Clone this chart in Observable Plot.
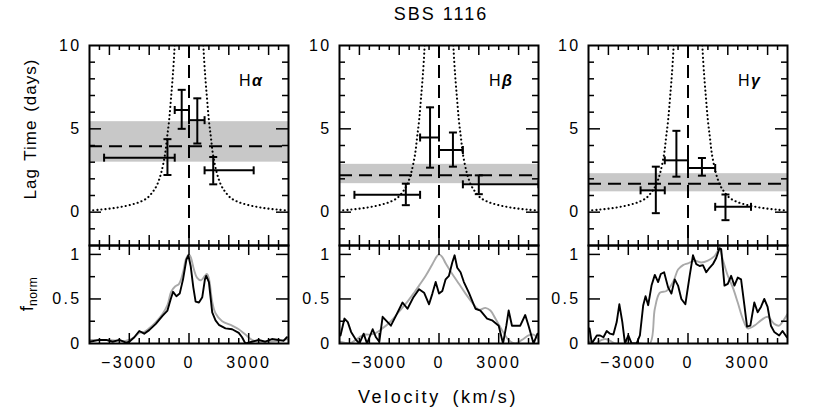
<!DOCTYPE html>
<html><head><meta charset="utf-8">
<script src="https://cdn.jsdelivr.net/npm/d3@7"></script>
<script src="https://cdn.jsdelivr.net/npm/@observablehq/plot@0.6"></script>
<style>
body{margin:0;background:#fff;}
#fig{position:relative;width:830px;height:417px;overflow:hidden;font-family:"Liberation Sans",Arial,Helvetica,sans-serif;color:#000;background:#fff;}
#fig svg{position:absolute;}
.lbl{position:absolute;white-space:pre;line-height:1;}
</style></head><body><div id="fig"></div>
<script>
// ---------- data ----------
const title = "SBS 1116";
const lineNames = ["α", "β", "γ"];
const topYTicks = [0, 5, 10];
const botYTicks = [0, 0.5, 1];
const xTickLabels = [-3000, 0, 3000];

// Hα lags
const haVel = [-1083, -367, 417, 1217];
const haBinLo = [-4267, -717, 0, 783];
const haBinHi = [-717, 0, 783, 3250];
const haLag = [3.27, 6.13, 5.52, 2.51];
const haLagLo = [2.23, 5.0, 4.12, 1.67];
const haLagHi = [4.38, 7.34, 6.83, 3.31];
const haMean = 3.96;
const haBand = [3.0, 5.43];

// Hβ lags
const hbVel = [-1667, -450, 700, 2000];
const hbBinLo = [-4250, -950, 0, 1200];
const hbBinHi = [-950, 0, 1200, 5000];
const hbLag = [1.04, 4.48, 3.73, 1.67];
const hbLagLo = [0.42, 2.67, 2.73, 1.08];
const hbLagHi = [1.71, 6.29, 4.78, 2.21];
const hbMean = 2.21;
const hbBand = [1.71, 2.87];

// Hγ lags
const hgVel = [-1617, -583, 700, 1883];
const hgBinLo = [-2383, -1167, 0, 1367];
const hgBinHi = [-1167, 0, 1367, 3167];
const hgLag = [1.31, 3.11, 2.65, 0.32];
const hgLagLo = [-0.06, 2.13, 2.19, -0.48];
const hgLagHi = [2.73, 4.88, 3.25, 1.06];
const hgMean = 1.71;
const hgBand = [1.22, 2.31];

// virial envelope (dotted), |velocity| and lag
const envAbsV = [720, 800, 900, 1000, 1100, 1200, 1400, 1600, 1800, 2100, 2500, 3000, 3500, 4000, 4500, 5000];
const envLag = [10, 8.4, 6.9, 5.5, 4.5, 3.5, 2.35, 1.65, 1.25, 0.85, 0.6, 0.42, 0.3, 0.21, 0.15, 0.1];

// Hα rms (black) and mean (gray) profiles
const haV = [-5000,-4500,-4167,-3833,-3500,-3167,-3000,-2750,-2500,-2250,-2000,-1667,-1333,-1083,-917,-800,-633,-467,-300,-133,-33,83,217,333,500,667,800,867,1000,1167,1333,1500,1833,2167,2500,2667,2833,3167,3500,3833,4167,4500,4750,4917];
const haF = [0.02,0.04,0.04,0.02,0.04,0.01,0.02,0.07,0.14,0.11,0.15,0.22,0.31,0.37,0.5,0.58,0.53,0.56,0.72,0.94,0.99,0.87,0.63,0.47,0.46,0.52,0.72,0.76,0.69,0.35,0.26,0.21,0.17,0.16,0.12,0.07,0,0.02,0.04,0.02,0.05,0.04,0.03,0.07];
const haMV = [-5000,-4500,-4000,-3500,-3200,-2800,-2500,-2250,-2000,-1667,-1333,-1083,-900,-700,-500,-300,-150,0,100,250,400,600,800,900,1000,1167,1333,1667,2167,2500,2833,3167,3500,4000,4500,5000];
const haMF = [0.04,0.04,0.04,0.03,0.03,0.06,0.12,0.13,0.17,0.24,0.33,0.43,0.58,0.64,0.67,0.8,0.95,1.0,0.96,0.83,0.74,0.71,0.76,0.78,0.73,0.47,0.34,0.25,0.2,0.16,0.1,0.04,0.02,0.02,0.03,0.05];

// Hβ
const hbV = [-4950,-4750,-4583,-4417,-4167,-4000,-3783,-3617,-3333,-3167,-3000,-2833,-2583,-2417,-2167,-1833,-1583,-1283,-1000,-750,-500,-333,-167,0,167,333,500,667,783,917,1083,1250,1500,1833,2083,2417,2667,2833,3000,3217,3383,3500,3667,4083,4333,4500,4750,4950];
const hbF = [0.09,0.28,0.24,0.13,0.04,0,0.11,0,0.16,0.07,0.02,0.3,0.24,0.2,0.31,0.46,0.39,0.52,0.61,0.57,0.44,0.56,0.69,0.56,0.59,0.72,0.76,0.91,0.99,0.85,0.8,0.69,0.57,0.39,0.37,0.28,0.26,0.23,0.2,0,0.2,0.37,0.2,0.2,0.32,0.2,0,0.11];
const hbMV = [-5000,-4750,-4500,-4250,-4000,-3750,-3500,-3167,-2833,-2417,-2000,-1583,-1250,-1000,-667,-333,-100,0,167,333,667,1000,1333,1667,2000,2333,2583,2833,3167,3500,3833,4167,4500,4750,5000];
const hbMF = [0.02,0.01,0.0,0.03,0.07,0.1,0.1,0.12,0.17,0.25,0.36,0.47,0.57,0.65,0.76,0.89,0.98,1.0,0.97,0.9,0.78,0.67,0.56,0.46,0.38,0.4,0.37,0.28,0.15,0.04,0,0.04,0.09,0.1,0.05];

// Hγ
const hgV = [-4950,-4833,-4583,-4417,-4250,-4083,-3917,-3750,-3583,-3450,-3300,-3167,-3000,-2833,-2583,-2417,-2250,-2133,-2000,-1833,-1667,-1500,-1367,-1200,-1000,-833,-667,-500,-333,-133,83,250,417,583,750,917,1083,1250,1417,1583,1667,1833,2000,2167,2333,2500,2667,2833,2967,3133,3333,3500,3667,3833,4000,4167,4333,4583,4750,4967];
const hgF = [0.17,0,0.09,0.09,0.07,0.14,0.11,0.1,0.24,0.44,0.24,0,0.09,0,0,0.09,0.43,0.53,0.43,0.65,0.77,0.69,0.78,0.8,0.63,0.56,0.72,0.65,0.5,0.44,0.76,0.99,0.89,0.87,0.88,0.8,0.85,0.89,0.96,1.07,1.06,0.65,0.67,0.76,0.65,0.74,0.72,0.43,0.19,0.2,0.46,0.35,0.41,0.5,0.41,0.2,0.13,0.09,0.14,0.07];
const hgMV = [-5000,-4833,-4667,-4500,-4333,-4167,-4000,-3833,-3667,-3000,-2400,-1917,-1667,-1417,-1083,-750,-500,-250,0,333,667,1000,1333,1583,1750,2000,2250,2500,2750,3000,3333,3667,4000,4333,4583,4800,5000];
const hgMF = [0.02,0.01,0,0.02,0.04,0.05,0.04,0.02,0,0,0,0,0.39,0.57,0.59,0.69,0.83,0.88,0.9,0.93,0.91,0.93,0.98,1.06,0.94,0.76,0.63,0.46,0.28,0.17,0.2,0.26,0.3,0.22,0.2,0.26,0.33];

// ---------- layout / style ----------
const FONT = '"Liberation Sans", Arial, Helvetica, sans-serif';
const W = 199, TOP_H = 200, BOT_H = 98;
const panelLefts = [89, 339, 588];
const topFrameY = 45, botFrameY = 245;
const xDomain = [-5000, 5000];
const ML = 50, MR = 10;

const tops = [
  {vel: haVel, lo: haBinLo, hi: haBinHi, lag: haLag, lagLo: haLagLo, lagHi: haLagHi, mean: haMean, band: haBand},
  {vel: hbVel, lo: hbBinLo, hi: hbBinHi, lag: hbLag, lagLo: hbLagLo, lagHi: hbLagHi, mean: hbMean, band: hbBand},
  {vel: hgVel, lo: hgBinLo, hi: hgBinHi, lag: hgLag, lagLo: hgLagLo, lagHi: hgLagHi, mean: hgMean, band: hgBand}
];
const spectra = [
  {v: haV, f: haF, mv: haMV, mf: haMF},
  {v: hbV, f: hbF, mv: hbMV, mf: hbMF},
  {v: hgV, f: hgF, mv: hgMV, mf: hgMF}
];

const capH = {draw(ctx, size) { const r = Math.sqrt(size / Math.PI); ctx.moveTo(-r, 0); ctx.lineTo(r, 0); }};
const capV = {draw(ctx, size) { const r = Math.sqrt(size / Math.PI); ctx.moveTo(0, -r); ctx.lineTo(0, r); }};

function xTicks(vals, len, innerH) {
  return [
    Plot.tickX(vals, {x: d => d, stroke: "black", strokeWidth: 1.5, insetBottom: innerH - len}),
    Plot.tickX(vals, {x: d => d, stroke: "black", strokeWidth: 1.5, insetTop: innerH - len})
  ];
}
function yTicks(vals, len) {
  return [
    Plot.tickY(vals, {y: d => d, stroke: "black", strokeWidth: 1.5, insetRight: W - len}),
    Plot.tickY(vals, {y: d => d, stroke: "black", strokeWidth: 1.5, insetLeft: W - len})
  ];
}
const svgStyle = {background: "none", overflow: "visible", fontFamily: FONT, fontSize: "16px", letterSpacing: "2.3px", color: "black"};
const axisText = {fontSize: 16, fill: "black", stroke: "black", strokeWidth: 0.25, label: null};

function topPanel(i) {
  const d = tops[i];
  const idx = d.vel.map((_, k) => k);
  const envL = envAbsV.map((v, k) => [-v, envLag[k]]);
  const envR = envAbsV.map((v, k) => [v, envLag[k]]);
  const minorX = d3.range(-4500, 5000, 500).filter(v => v % 2000 !== 0);
  const majorX = [-4000, -2000, 0, 2000, 4000];
  const minorY = [-1, 1, 2, 3, 4, 6, 7, 8, 9];
  const majorY = [0, 5];
  const bar = {stroke: "black", strokeWidth: 2, clip: true};
  const dotted = {x: p => p[0], y: p => p[1], curve: "catmull-rom", stroke: "black", strokeWidth: 2.1, strokeDasharray: "0.1,4", strokeLinecap: "round", clip: true};
  return Plot.plot({
    width: W + ML + MR, height: TOP_H + 20,
    marginLeft: ML, marginRight: MR, marginTop: 15, marginBottom: 5,
    style: svgStyle,
    x: {domain: xDomain, axis: null},
    y: {domain: [-2, 10]},
    marks: [
      Plot.rect([d.band], {x1: xDomain[0], x2: xDomain[1], y1: b => b[0], y2: b => b[1], fill: "#c8c8c8"}),
      Plot.line(envL, dotted),
      Plot.line(envR, dotted),
      Plot.ruleY([d.mean], {stroke: "black", strokeWidth: 2, strokeDasharray: "13,7"}),
      Plot.ruleX([0], {stroke: "black", strokeWidth: 2, strokeDasharray: "13,7"}),
      Plot.ruleY(idx, {y: k => d.lag[k], x1: k => d.lo[k], x2: k => d.hi[k], ...bar}),
      Plot.ruleX(idx, {x: k => d.vel[k], y1: k => d.lagLo[k], y2: k => d.lagHi[k], ...bar}),
      Plot.dot(idx, {x: k => d.vel[k], y: k => d.lagLo[k], symbol: capH, r: 4, ...bar, fill: "none"}),
      Plot.dot(idx, {x: k => d.vel[k], y: k => d.lagHi[k], symbol: capH, r: 4, ...bar, fill: "none"}),
      Plot.dot(idx, {x: k => d.lo[k], y: k => d.lag[k], symbol: capV, r: 4, ...bar, fill: "none"}),
      Plot.dot(idx, {x: k => d.hi[k], y: k => d.lag[k], symbol: capV, r: 4, ...bar, fill: "none"}),
      ...xTicks(minorX, 5, TOP_H),
      ...xTicks(majorX, 10, TOP_H),
      ...yTicks(minorY, 6),
      ...yTicks(majorY, 12),
      Plot.axisY(topYTicks, {tickSize: 0, tickPadding: 8, ...axisText, tickFormat: v => String(v)}),
      Plot.frame({stroke: "black", strokeWidth: 2})
    ]
  });
}

function bottomPanel(i) {
  const s = spectra[i];
  const minorX = d3.range(-4500, 5000, 500).filter(v => v % 3000 !== 0);
  const majorX = [-3000, 0, 3000];
  return Plot.plot({
    width: W + ML + MR, height: BOT_H + 45,
    marginLeft: ML, marginRight: MR, marginTop: 5, marginBottom: 40,
    style: svgStyle,
    x: {domain: xDomain},
    y: {domain: [0, 1.1]},
    marks: [
      Plot.line(d3.zip(s.mv, s.mf), {x: p => p[0], y: p => p[1], curve: "catmull-rom", stroke: "#a9a9a9", strokeWidth: 1.9, clip: true}),
      Plot.line(d3.zip(s.v, s.f), {x: p => p[0], y: p => p[1], stroke: "black", strokeWidth: 1.9, strokeLinejoin: "round", clip: true}),
      ...xTicks(minorX, 5, BOT_H),
      ...xTicks(majorX, 10, BOT_H),
      ...yTicks([0.25, 0.75], 6),
      ...yTicks([0.5, 1], 12),
      Plot.axisY(botYTicks, {tickSize: 0, tickPadding: 8, ...axisText, tickFormat: v => String(v)}),
      Plot.axisX(xTickLabels, {tickSize: 0, tickPadding: 13, ...axisText, tickFormat: v => v < 0 ? "\u2212" + Math.abs(v) : String(v)}),
      Plot.frame({stroke: "black", strokeWidth: 2})
    ]
  });
}

const fig = document.getElementById("fig");
for (let i = 0; i < 3; i++) {
  const t = topPanel(i);
  t.style.left = (panelLefts[i] - ML) + "px";
  t.style.top = (topFrameY - 15) + "px";
  fig.appendChild(t);
  const b = bottomPanel(i);
  b.style.left = (panelLefts[i] - ML) + "px";
  b.style.top = (botFrameY - 5) + "px";
  fig.appendChild(b);
}

function label(html, css) {
  const el = document.createElement("div");
  el.className = "lbl";
  el.innerHTML = html;
  Object.assign(el.style, css);
  fig.appendChild(el);
  return el;
}
label(title, {left: "441px", top: "14px", transform: "translate(-50%,-50%)", fontSize: "18px", letterSpacing: "2px"});
label("Velocity (km/s)", {left: "438px", top: "397px", transform: "translate(-50%,-50%)", fontSize: "18px", letterSpacing: "2.6px", wordSpacing: "4px"});
label("Lag Time (days)", {left: "30px", top: "129px", transform: "translate(-50%,-50%) rotate(-90deg)", fontSize: "17px", letterSpacing: "1px", wordSpacing: "2px"});
label('f<sub style="font-size:12px;letter-spacing:0.5px;vertical-align:-4px">norm</sub>', {left: "28px", top: "294px", transform: "translate(-50%,-50%) rotate(-90deg)", fontSize: "19px"});
for (let i = 0; i < 3; i++) {
  label('H<b><i>' + lineNames[i] + '</i></b>', {left: (panelLefts[i] + 150) + "px", top: "73px", fontSize: "16px", letterSpacing: "1.5px"});
}
</script>
</body></html>
